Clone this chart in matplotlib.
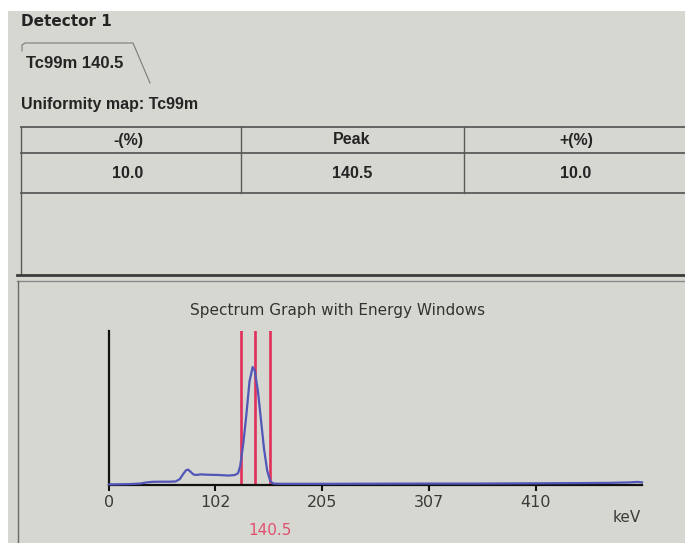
import matplotlib
matplotlib.use('Agg')
import matplotlib.pyplot as plt
from matplotlib.patches import Rectangle
from matplotlib.transforms import blended_transform_factory

# spectrum (relative counts, photopeak = 1)
energy_kev = [0, 10, 20, 30, 36, 42, 50, 58, 64, 68, 71, 74, 76, 78, 81, 84, 88,
              95, 105, 115, 121, 124, 126, 129, 132, 135, 138, 140, 143, 146,
              149, 152, 155, 158, 165, 200, 250, 300, 350, 400, 450, 480, 500,
              508, 512]
counts = [0.005, 0.006, 0.008, 0.012, 0.022, 0.027, 0.028, 0.028, 0.03, 0.05,
          0.09, 0.125, 0.13, 0.115, 0.09, 0.085, 0.09, 0.087, 0.085, 0.08, 0.085,
          0.1, 0.16, 0.35, 0.6, 0.88, 1.0, 0.97, 0.8, 0.55, 0.3, 0.12, 0.03,
          0.012, 0.01, 0.01, 0.011, 0.012, 0.012, 0.014, 0.016, 0.018, 0.022,
          0.026, 0.022]

# energy window settings
peak_kev = 140.5
minus_pct = 10.0
plus_pct = 10.0
table_headers = ['-(%)', 'Peak', '+(%)']
table_values = [minus_pct, peak_kev, plus_pct]

x_ticks = [0, 102, 205, 307, 410]
x_max = 512

BG = '#d7d7d1'
TXT = '#242424'
LINE = '#5a5a5a'
BLUE = '#5156b8'
RED = '#e0305a'

W, H = 685, 543
fig = plt.figure(figsize=(W / 100, H / 100), dpi=100, facecolor='white')

# screen background, drawn in pixel coordinates
bg = fig.add_axes([0, 0, 1, 1], zorder=0)
bg.set_xlim(0, W)
bg.set_ylim(H, 0)
bg.axis('off')
bg.add_patch(Rectangle((8, 11), W - 8, H - 11, facecolor=BG, edgecolor='none'))

ui_font = ['Liberation Sans', 'DejaVu Sans']
bg.text(21, 21, 'Detector 1', fontsize=11, fontweight='bold', color=TXT,
        family='DejaVu Sans', va='center')

# tab
bg.plot([22, 22, 25, 133, 150], [51, 45, 43, 43, 83], color='#7a7a7a', lw=0.8)
bg.text(26, 64, 'Tc99m 140.5', fontsize=12, fontweight='bold', color=TXT,
        family=ui_font, va='center')

bg.text(21, 104, 'Uniformity map: Tc99m', fontsize=11.5, fontweight='bold',
        color=TXT, family=ui_font, va='center')

# table of window settings
col_edges = [21, 241, 464, W]
for y in (127, 153, 193):
    bg.plot([21, W], [y, y], color=LINE, lw=1.3)
for x in col_edges[1:3]:
    bg.plot([x, x], [127, 193], color=LINE, lw=1.0)
bg.plot([21, 21], [127, 275], color=LINE, lw=1.0)
centers = [128, 352, 576]
for cx, head, val in zip(centers, table_headers, table_values):
    bg.text(cx, 140, head, fontsize=11.5, fontweight='bold', color=TXT,
            family=ui_font, ha='center', va='center')
    bg.text(cx, 173, f'{val:.1f}', fontsize=11.5, fontweight='bold', color=TXT,
            family=ui_font, ha='center', va='center')

# split between upper panel and graph panel
bg.plot([17, W], [275, 275], color='#3c3c3c', lw=2.0)
bg.plot([17, W], [281, 281], color='#8a8a8a', lw=1.0)
bg.plot([18, 18], [281, H], color='#6a6a6a', lw=1.0)

bg.text(338, 310, 'Spectrum Graph with Energy Windows', fontsize=11,
        color='#333333', ha='center', va='center')
bg.text(627, 517, 'keV', fontsize=11, color='#3a3a3a', ha='center', va='center')

# spectrum graph
x0, x1, y0, y1 = 109, 642, 331, 485
ax = fig.add_axes([x0 / W, 1 - y1 / H, (x1 - x0) / W, (y1 - y0) / H], zorder=1)
ax.patch.set_alpha(0)
ax.set_xlim(0, x_max)
ax.set_ylim(0, 1 / 0.766)

for s in ('top', 'right'):
    ax.spines[s].set_visible(False)
for s in ('left', 'bottom'):
    ax.spines[s].set_color('#111111')
    ax.spines[s].set_linewidth(1.6)

window_lines = [peak_kev * (1 - minus_pct / 100), peak_kev,
                peak_kev * (1 + plus_pct / 100)]
for e in window_lines:
    ax.axvline(e, color=RED, lw=1.9, zorder=2)

ax.plot(energy_kev, counts, color=BLUE, lw=1.6, zorder=3, clip_on=False)

ax.set_xticks(x_ticks)
ax.set_xticklabels([str(t) for t in x_ticks])
ax.set_yticks([])
ax.tick_params(axis='x', length=4, width=1.5, color='#111111', pad=3,
               labelsize=11.5, labelcolor='#3a3a3a')

trans = blended_transform_factory(ax.transData, ax.transAxes)
ax.annotate(f'{peak_kev:.1f}', xy=(peak_kev, 0), xycoords=trans,
            xytext=(-5, -33), textcoords='offset points', ha='left',
            va='center', fontsize=11, color='#e0506e')

fig.savefig('out.png', dpi=100, facecolor=fig.get_facecolor())
